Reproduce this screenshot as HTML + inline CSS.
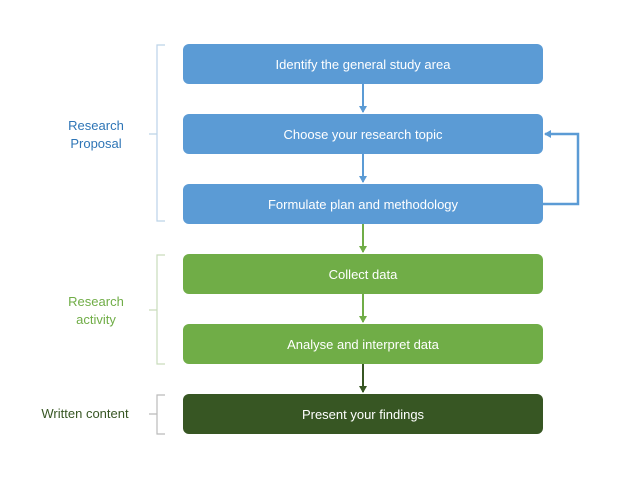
<!DOCTYPE html>
<html><head><style>
body{margin:0;background:#fff;}
svg text{font-family:"Liberation Sans",sans-serif;}
</style></head><body>
<svg width="638" height="479" viewBox="0 0 638 479" xmlns="http://www.w3.org/2000/svg">
<defs>
<marker id="ab" markerWidth="8" markerHeight="8" refX="6" refY="4" orient="auto" markerUnits="userSpaceOnUse"><path d="M0,0 L7,4 L0,8z" fill="#5b9bd5"/></marker>
<marker id="ag" markerWidth="8" markerHeight="8" refX="6" refY="4" orient="auto" markerUnits="userSpaceOnUse"><path d="M0,0 L7,4 L0,8z" fill="#70ad47"/></marker>
<marker id="ad" markerWidth="8" markerHeight="8" refX="6" refY="4" orient="auto" markerUnits="userSpaceOnUse"><path d="M0,0 L7,4 L0,8z" fill="#375623"/></marker>
</defs>
<g fill="#5b9bd5">
<rect x="183" y="44" width="360" height="40" rx="6"/>
<rect x="183" y="114" width="360" height="40" rx="6"/>
<rect x="183" y="184" width="360" height="40" rx="6"/>
</g>
<g fill="#70ad47">
<rect x="183" y="254" width="360" height="40" rx="6"/>
<rect x="183" y="324" width="360" height="40" rx="6"/>
</g>
<rect x="183" y="394" width="360" height="40" rx="6" fill="#375623"/>
<g fill="#fff" font-size="13" text-anchor="middle">
<text x="363" y="69">Identify the general study area</text>
<text x="363" y="139">Choose your research topic</text>
<text x="363" y="209">Formulate plan and methodology</text>
<text x="363" y="279">Collect data</text>
<text x="363" y="349">Analyse and interpret data</text>
<text x="363" y="419">Present your findings</text>
</g>
<g stroke-width="2" fill="none">
<line x1="363" y1="84" x2="363" y2="112" stroke="#5b9bd5" marker-end="url(#ab)"/>
<line x1="363" y1="154" x2="363" y2="182" stroke="#5b9bd5" marker-end="url(#ab)"/>
<line x1="363" y1="224" x2="363" y2="252" stroke="#70ad47" marker-end="url(#ag)"/>
<line x1="363" y1="294" x2="363" y2="322" stroke="#70ad47" marker-end="url(#ag)"/>
<line x1="363" y1="364" x2="363" y2="392" stroke="#375623" marker-end="url(#ad)"/>
<polyline points="543,204 578,204 578,134 545,134" stroke="#5b9bd5" stroke-width="2.5" marker-end="url(#ab)"/>
</g>
<g stroke="#bcd3e8" stroke-width="1.2" fill="none">
<path d="M165,45 L157,45 L157,221 L165,221 M157,134 L149,134"/>
</g>
<g stroke="#c9dcbc" stroke-width="1.2" fill="none">
<path d="M165,255 L157,255 L157,364 L165,364 M157,310 L149,310"/>
</g>
<g stroke="#bbbbbb" stroke-width="1.2" fill="none">
<path d="M165,395 L157,395 L157,434 L165,434 M157,414 L149,414"/>
</g>
<g font-size="13" text-anchor="middle">
<text x="96" y="130" fill="#2e75b6">Research</text>
<text x="96" y="148" fill="#2e75b6">Proposal</text>
<text x="96" y="306" fill="#70ad47">Research</text>
<text x="96" y="324" fill="#70ad47">activity</text>
<text x="85" y="418" fill="#375623">Written content</text>
</g>
</svg>
</body></html>
